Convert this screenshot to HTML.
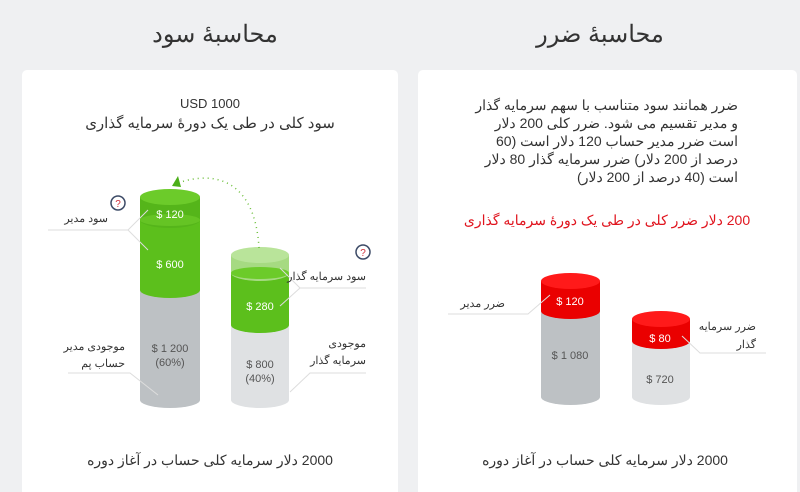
<!DOCTYPE html>
<html><head><meta charset="utf-8"><style>
html,body{margin:0;padding:0;background:#eff0f2;}
svg{display:block;font-family:"Liberation Sans","Noto Sans CJK SC",sans-serif;}
</style></head><body>
<svg width="800" height="492" viewBox="0 0 800 492" xmlns="http://www.w3.org/2000/svg">
<rect width="800" height="492" fill="#eff0f2"/>
<rect x="22" y="70" width="376" height="440" rx="5" fill="#fff"/>
<rect x="418" y="70" width="379" height="440" rx="5" fill="#fff"/>
<g direction="rtl" text-anchor="middle" fill="#333">
<text x="215" y="42" font-size="24">محاسبۀ سود</text>
<text x="600" y="42" font-size="24">محاسبۀ ضرر</text>
<text x="210" y="108" font-size="13" direction="ltr">USD 1000</text>
<text x="210" y="128" font-size="15">سود کلی در طی یک دورۀ سرمایه گذاری</text>
<text x="210" y="465" font-size="14">2000 دلار سرمایه کلی حساب در آغاز دوره</text>
<text x="605" y="465" font-size="14">2000 دلار سرمایه کلی حساب در آغاز دوره</text>
<text x="607" y="225" font-size="14" fill="#e0141e">200 دلار ضرر کلی در طی یک دورۀ سرمایه گذاری</text>
</g>
<g direction="rtl" text-anchor="start" fill="#333" font-size="14">
<text x="738" y="110">ضرر همانند سود متناسب با سهم سرمایه گذار</text>
<text x="738" y="128">و مدیر تقسیم می شود. ضرر کلی 200 دلار</text>
<text x="738" y="146">است ضرر مدیر حساب 120 دلار است (60</text>
<text x="738" y="164">درصد از 200 دلار) ضرر سرمایه گذار 80 دلار</text>
<text x="738" y="182">است (40 درصد از 200 دلار)</text>
</g>
<!-- left cylinders -->
<g>
<path d="M140 290 V400 A30 8 0 0 0 200 400 V290 Z" fill="#bdc1c4"/>
<path d="M140 220 V290 A30 8 0 0 0 200 290 V220 Z" fill="#5cbf1c"/>
<path d="M140 197 V220 A30 8 0 0 0 200 220 V197 Z" fill="#55b51a"/>
<ellipse cx="170" cy="220" rx="30" ry="6" fill="#6ccb2a" opacity="0.7"/>
<ellipse cx="170" cy="197" rx="30" ry="8" fill="#6ccb2a"/>
<path d="M231 325 V400 A29 8 0 0 0 289 400 V325 Z" fill="#dfe1e3"/>
<path d="M231 273 V325 A29 8 0 0 0 289 325 V273 Z" fill="#5cbf1c"/>
<path d="M231 255 V273 A29 8 0 0 0 289 273 V255 Z" fill="#a6da82"/>
<ellipse cx="260" cy="273" rx="29" ry="6" fill="#6ccb2a"/>
<ellipse cx="260" cy="255" rx="29" ry="8" fill="#b9e49a"/>
<path d="M259 248 C255 180 215 170 178 183" fill="none" stroke="#6cbf3a" stroke-width="1.5" stroke-dasharray="1 4"/>
<polygon points="172,186 178,176 181,187" fill="#4caf1a"/>
</g>
<g fill="#fff" font-size="11" text-anchor="middle">
<text x="170" y="218">$ 120</text>
<text x="170" y="268">$ 600</text>
<text x="260" y="310">$ 280</text>
</g>
<g fill="#555" font-size="11" text-anchor="middle">
<text x="170" y="352">$ 1 200</text>
<text x="170" y="366">(60%)</text>
<text x="260" y="368">$ 800</text>
<text x="260" y="382">(40%)</text>
</g>
<g stroke="#ddd" fill="none">
<polyline points="48,230 128,230 148,210"/><polyline points="128,230 148,250"/>
<polyline points="68,373 130,373 158,395"/>
<polyline points="366,288 300,288 280,268"/><polyline points="300,288 280,306"/>
<polyline points="366,373 310,373 290,392"/>
</g>
<g direction="rtl" text-anchor="start" fill="#333" font-size="11">
<text x="108" y="222">سود  مدیر</text>
<text x="125" y="350">موجودی مدیر</text>
<text x="125" y="367">حساب پم</text>
<text x="366" y="280">سود سرمایه گذار</text>
<text x="366" y="347">موجودی</text>
<text x="366" y="364">سرمایه گذار</text>
<text x="505" y="307">ضرر مدیر</text>
<text x="756" y="330">ضرر سرمایه</text>
<text x="756" y="348">گذار</text>
</g>
<g fill="none" stroke="#3c4a66" stroke-width="1.5"><circle cx="118" cy="203" r="7"/><circle cx="363" cy="252" r="7"/></g>
<g fill="#d0303a" font-size="10" text-anchor="middle"><text x="118" y="207">?</text><text x="363" y="256">?</text></g>
<!-- right cylinders -->
<path d="M541 311 V397 A29.5 8 0 0 0 600 397 V311 Z" fill="#bdc1c4"/>
<path d="M541 281 V311 A29.5 8 0 0 0 600 311 V281 Z" fill="#ea0000"/>
<ellipse cx="570.5" cy="281" rx="29.5" ry="8" fill="#ff1a1a"/>
<path d="M632 341 V397 A29 8 0 0 0 690 397 V341 Z" fill="#dfe1e3"/>
<path d="M632 319 V341 A29 8 0 0 0 690 341 V319 Z" fill="#ea0000"/>
<ellipse cx="661" cy="319" rx="29" ry="8" fill="#ff1a1a"/>
<g stroke="#ddd" fill="none">
<polyline points="448,314 528,314 550,295"/>
<polyline points="766,353 700,353 682,336"/>
</g>
<g fill="#fff" font-size="11" text-anchor="middle"><text x="570" y="305">$ 120</text><text x="660" y="342">$ 80</text></g>
<g fill="#555" font-size="11" text-anchor="middle"><text x="570" y="359">$ 1 080</text><text x="660" y="383">$ 720</text></g>
</svg>
</body></html>
